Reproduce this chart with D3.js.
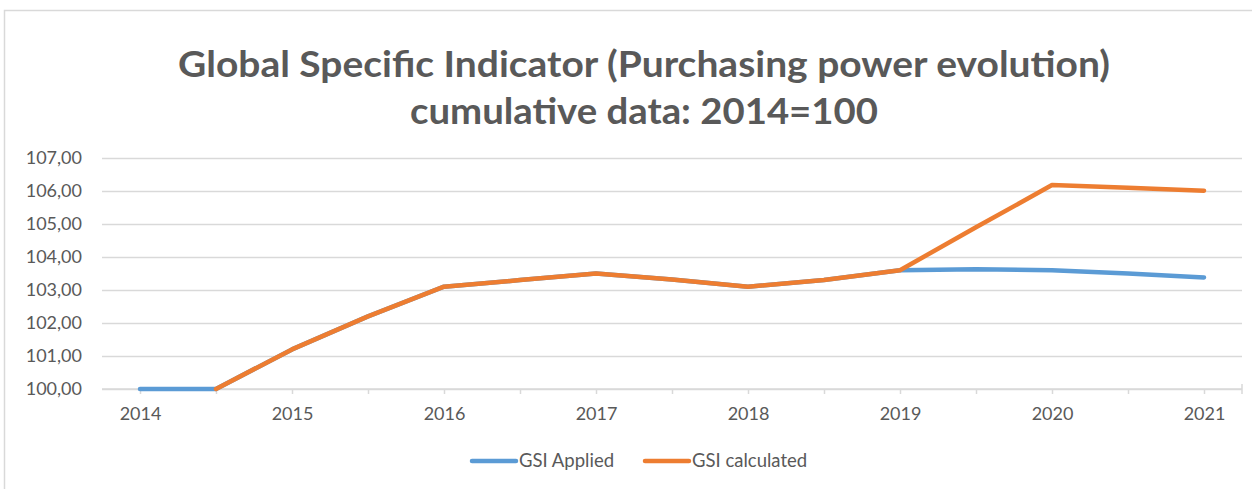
<!DOCTYPE html>
<html lang="en">
  <head>
    <meta charset="UTF-8" />
    <title>Global Specific Indicator</title>
    <script src="https://d3js.org/d3.v7.min.js"></script>
    <style>
      body {
        margin: 0;
        background: #fff;
      }
      svg {
        display: block;
        font-family: Lato, "Open Sans", sans-serif;
      }
    </style>
  </head>
  <body>
    <script>
      // half-year categories, only full years get a label
      const categories = ["2014", "2014.5", "2015", "2015.5", "2016", "2016.5", "2017", "2017.5",
        "2018", "2018.5", "2019", "2019.5", "2020", "2020.5", "2021"];
      const yearLabels = ["2014", "2015", "2016", "2017", "2018", "2019", "2020", "2021"];
      const gsiApplied = [100, 100, 101.2, 102.2, 103.1, 103.3, 103.5, 103.32, 103.1, 103.3, 103.6, 103.63, 103.6, 103.5, 103.38];
      const gsiCalculated = [null, 100, 101.2, 102.2, 103.1, 103.3, 103.5, 103.32, 103.1, 103.3, 103.6, 104.9, 106.18, 106.1, 106.01];
      const yTicks = [100, 101, 102, 103, 104, 105, 106, 107];
      const seriesNames = ["GSI Applied", "GSI calculated"];

      const width = 1252;
      const height = 489;
      const margin = { top: 158, right: 10, bottom: 100, left: 102 };
      const plotRight = 1242;

      const svg = d3.select("body").append("svg").attr("width", width).attr("height", height);

      // chart border
      svg.append("rect")
        .attr("x", 4.5).attr("y", 10.5)
        .attr("width", 1300).attr("height", 600)
        .attr("fill", "#fff").attr("stroke", "#d9d9d9").attr("stroke-width", 1.5);

      const x = d3.scalePoint()
        .domain(categories)
        .range([margin.left, plotRight])
        .padding(0.5);

      const y = d3.scaleLinear().domain([100, 107]).range([389, 158]);

      // title
      const title = svg.append("text")
        .attr("text-anchor", "middle")
        .attr("fill", "#595959")
        .attr("font-weight", "bold")
        .attr("font-size", 36);
      title.append("tspan").attr("x", 644).attr("y", 77)
        .attr("textLength", 932).attr("lengthAdjust", "spacingAndGlyphs")
        .text("Global Specific Indicator (Purchasing power evolution)");
      title.append("tspan").attr("x", 644).attr("y", 124)
        .attr("textLength", 468).attr("lengthAdjust", "spacingAndGlyphs")
        .text("cumulative data: 2014=100");

      // gridlines + y labels
      const fmt = d3.format(".2f");
      const yAxis = svg.append("g")
        .call(d3.axisLeft(y).tickValues(yTicks).tickSize(-(plotRight - margin.left))
          .tickFormat((d) => fmt(d).replace(".", ",")))
        .attr("transform", `translate(${margin.left},0)`);
      yAxis.select(".domain").remove();
      yAxis.selectAll(".tick line").attr("stroke", "#d9d9d9").attr("stroke-width", 1.5);
      yAxis.selectAll(".tick text")
        .attr("x", -20)
        .attr("fill", "#595959")
        .attr("font-size", 18)
        .attr("font-family", "Lato, sans-serif");

      // category axis: ticks at each category, labels on full years
      const xAxis = svg.append("g")
        .attr("transform", `translate(0,${y(100)})`)
        .call(d3.axisBottom(x).tickSize(5).tickSizeOuter(0)
          .tickFormat((d) => (yearLabels.includes(d) ? d : "")));
      xAxis.select(".domain").attr("stroke", "#d9d9d9").attr("stroke-width", 1.5)
        .attr("d", `M${margin.left},0H${plotRight}`);
      xAxis.selectAll(".tick line").attr("stroke", "#d9d9d9").attr("stroke-width", 1.5);
      xAxis.selectAll(".tick text")
        .attr("y", 18)
        .attr("fill", "#595959")
        .attr("font-size", 18)
        .attr("font-family", "Lato, sans-serif");
      xAxis.append("line")
        .attr("x1", plotRight).attr("x2", plotRight)
        .attr("y1", -5).attr("y2", 5)
        .attr("stroke", "#d9d9d9").attr("stroke-width", 1.5);

      // lines
      const colors = ["#5b9bd5", "#ed7d31"];
      const line = d3.line()
        .defined((d) => d[1] != null)
        .x((d) => x(d[0]))
        .y((d) => y(d[1]));

      [gsiApplied, gsiCalculated].forEach((vals, i) => {
        svg.append("path")
          .datum(categories.map((c, j) => [c, vals[j]]))
          .attr("fill", "none")
          .attr("stroke", colors[i])
          .attr("stroke-width", 4.5)
          .attr("stroke-linejoin", "round")
          .attr("stroke-linecap", "round")
          .attr("d", line);
      });

      // legend
      const legendX = [470, 643];
      seriesNames.forEach((name, i) => {
        const g = svg.append("g").attr("transform", `translate(${legendX[i]},461)`);
        g.append("line")
          .attr("x1", 2).attr("x2", 46)
          .attr("stroke", colors[i]).attr("stroke-width", 4.5)
          .attr("stroke-linecap", "round");
        g.append("text")
          .attr("x", 49).attr("dy", "0.35em")
          .attr("fill", "#595959")
          .attr("font-size", 18.5)
          .text(name);
      });
    </script>
  </body>
</html>
